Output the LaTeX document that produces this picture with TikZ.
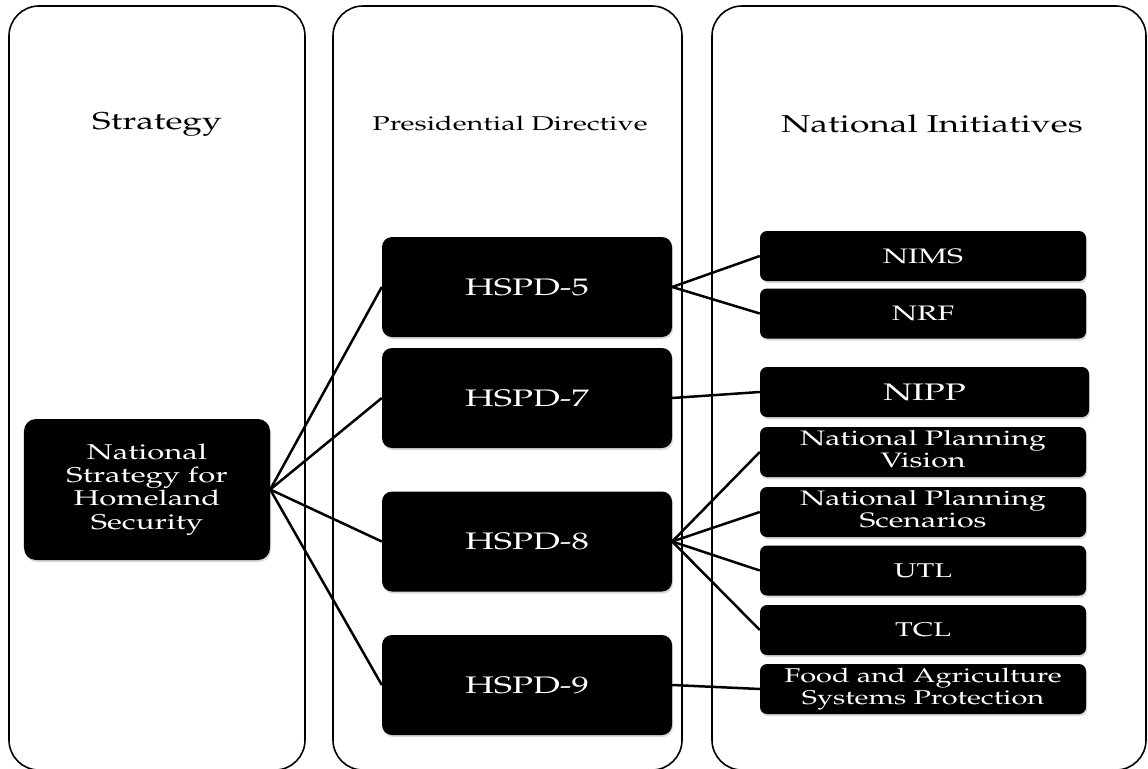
\documentclass[tikz,border=0pt]{standalone}
\usepackage[T1]{fontenc}
\usepackage{graphicx}
\usepackage{mathpazo}
\usetikzlibrary{shadows}
\newcommand{\wide}[1]{\scalebox{1.45}[1]{#1}}
\tikzset{
  column/.style={draw, line width=1.6bp, rounded corners=30bp},
  heading/.style={inner sep=0pt},
  blackbox/.style={fill=black, text=white, align=center, inner sep=0pt,
    drop shadow={shadow xshift=1bp, shadow yshift=-2bp, opacity=0.3}},
  bigbox/.style={blackbox, rounded corners=10bp, minimum width=290bp,
    minimum height=100bp, font=\fontsize{24}{26}\selectfont},
  smallbox/.style={blackbox, rounded corners=7bp, minimum width=326bp,
    minimum height=50bp, font=\fontsize{21}{22}\selectfont},
  link/.style={line width=2.5bp}
}
\begin{document}
\begin{tikzpicture}[x=1bp,y=-1bp]
\clip (0,0) rectangle (1148,769);
\draw[column] (9,6) rectangle (305,770);
\draw[column] (333,6) rectangle (682,770);
\draw[column] (712,6) rectangle (1146,770);
\node[heading,font=\fontsize{24.5}{26}\selectfont] (strat) at (157,124) {\wide{Strategy}};
\node[heading,font=\fontsize{20}{22}\selectfont] (presdir) at (510,124) {\wide{Presidential Directive}};
\node[heading,font=\fontsize{24.5}{26}\selectfont] (natinit) at (932,124) {\wide{National Initiatives}};
\node[blackbox, rounded corners=12bp, minimum width=246bp, minimum height=141bp,
  font=\fontsize{21.5}{23.5}\selectfont] (nshs) at (147,489.5)
  {\wide{\begin{tabular}{@{}c@{}}National\\Strategy for\\Homeland\\Security\end{tabular}}};
\node[bigbox] (hspdfive) at (527,287) {\wide{HSPD-5}};
\node[bigbox] (hspdseven) at (527,398) {\wide{HSPD-7}};
\node[bigbox] (hspdeight) at (527,541.5) {\wide{HSPD-8}};
\node[bigbox] (hspdnine) at (527,685) {\wide{HSPD-9}};
\node[smallbox] (nims) at (923,256) {\wide{NIMS}};
\node[smallbox] (nrf) at (923,313.5) {\wide{NRF}};
\node[smallbox, minimum width=329bp, font=\fontsize{24}{26}\selectfont] (nipp) at (924.5,392) {\wide{NIPP}};
\node[smallbox] (npv) at (923,452) {\wide{\begin{tabular}{@{}c@{}}National Planning\\Vision\end{tabular}}};
\node[smallbox] (nps) at (923,512) {\wide{\begin{tabular}{@{}c@{}}National Planning\\Scenarios\end{tabular}}};
\node[smallbox, font=\fontsize{20}{22}\selectfont] (utl) at (923,570.5) {\wide{UTL}};
\node[smallbox, font=\fontsize{20}{22}\selectfont] (tcl) at (923,630) {\wide{TCL}};
\node[smallbox, font=\fontsize{20}{22}\selectfont] (fasp) at (923,689) {\wide{\begin{tabular}{@{}c@{}}Food and Agriculture\\Systems Protection\end{tabular}}};
\foreach \h in {hspdfive,hspdseven,hspdeight,hspdnine}
  \draw[link] (nshs.east) -- (\h.west);
\draw[link] (hspdfive.east) -- (nims.west);
\draw[link] (hspdfive.east) -- (nrf.west);
\draw[link] (hspdseven.east) -- (nipp.west);
\foreach \n in {npv,nps,utl,tcl}
  \draw[link] (hspdeight.east) -- (\n.west);
\draw[link] (hspdnine.east) -- (fasp.west);
\end{tikzpicture}
\end{document}
